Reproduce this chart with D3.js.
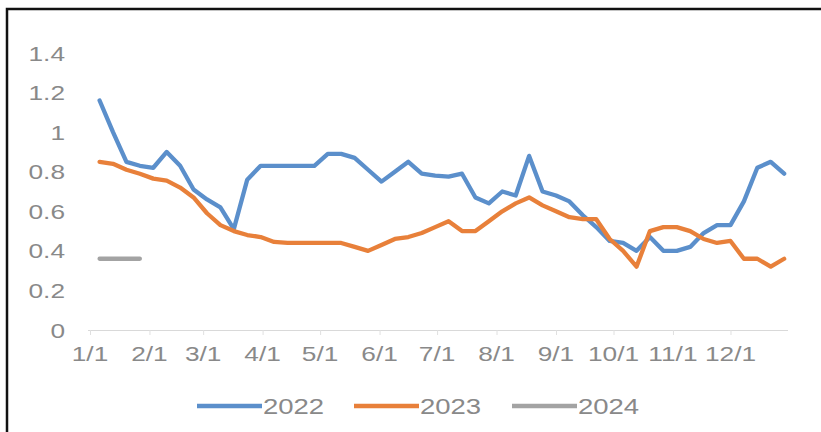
<!DOCTYPE html>
<html>
<head>
<meta charset="utf-8">
<script src="https://cdn.jsdelivr.net/npm/d3@7"></script>
<style>
  html, body { margin: 0; padding: 0; background: #ffffff; }
  svg { display: block; }
  text { font-family: "Liberation Sans", Arial, sans-serif; }
</style>
</head>
<body>
<svg id="chart" width="821" height="432"></svg>
<script>
// ---- data ----
const weeks = ["01-06","01-13","01-20","01-27","02-03","02-10","02-17","02-24",
  "03-03","03-10","03-17","03-24","03-31","04-07","04-14","04-21","04-28",
  "05-05","05-12","05-19","05-26","06-02","06-09","06-16","06-23","06-30",
  "07-07","07-14","07-21","07-28","08-04","08-11","08-18","08-25",
  "09-01","09-08","09-15","09-22","09-29","10-06","10-13","10-20","10-27",
  "11-03","11-10","11-17","11-24","12-01","12-08","12-15","12-22","12-29"];
const s2022 = [1.16,1.00,0.85,0.83,0.82,0.90,0.83,0.71,0.66,0.62,0.51,0.76,0.83,0.83,0.83,0.83,0.83,0.89,0.89,0.87,0.81,0.75,0.80,0.85,0.79,0.78,0.775,0.79,0.67,0.64,0.70,0.68,0.88,0.70,0.68,0.65,0.58,0.52,0.45,0.44,0.40,0.47,0.40,0.40,0.42,0.49,0.53,0.53,0.65,0.82,0.85,0.79];
const s2023 = [0.85,0.84,0.81,0.79,0.765,0.755,0.72,0.67,0.59,0.53,0.50,0.48,0.47,0.445,0.44,0.44,0.44,0.44,0.44,0.42,0.40,0.43,0.46,0.47,0.49,0.52,0.55,0.50,0.50,0.55,0.60,0.64,0.67,0.63,0.60,0.57,0.56,0.56,0.46,0.40,0.32,0.50,0.52,0.52,0.50,0.46,0.44,0.45,0.36,0.36,0.32,0.36];
const s2024 = [0.36,0.36,0.36,0.36];
const seriesNames = ["2022","2023","2024"];
const seriesColors = ["#5b8fcb","#e8803a","#a3a3a3"];
const monthLabels = ["1/1","2/1","3/1","4/1","5/1","6/1","7/1","8/1","9/1","10/1","11/1","12/1"];
const yTicks = [0,0.2,0.4,0.6,0.8,1,1.2,1.4];
const yTickLabels = ["0","0.2","0.4","0.6","0.8","1","1.2","1.4"];

// ---- setup ----
const svg = d3.select("#chart");
const parse = d3.timeParse("%Y-%m-%d");
const weekDates = weeks.map(w => parse("2022-" + w));
const monthDates = monthLabels.map((l, i) => new Date(2022, i, 1));

const x = d3.scaleTime()
  .domain([new Date(2022,0,1), new Date(2022,11,31)])
  .range([90, 788]);
const y = d3.scaleLinear().domain([0, 1.4]).range([330, 53]);

const textColor = "#898989";
const sx = 1.25;

// frame
svg.append("path")
  .attr("d", "M7,440 L7,9 L830,9")
  .attr("fill", "none").attr("stroke", "#111").attr("stroke-width", 2.5);

// x axis
const xAxis = d3.axisBottom(x)
  .tickValues(monthDates)
  .tickSize(5).tickSizeOuter(0)
  .tickFormat("");
const gx = svg.append("g").attr("transform", "translate(0,330)").call(xAxis);
gx.select(".domain").attr("stroke", "#d9d9d9").attr("stroke-width", 1.2)
  .attr("d", "M88,0.5H788");
gx.selectAll(".tick line").attr("stroke", "#e0e0e0");

svg.append("g").selectAll("text").data(monthLabels).join("text")
  .attr("transform", (d, i) => `translate(${x(monthDates[i])},361) scale(${sx},1)`)
  .attr("text-anchor", "middle")
  .attr("font-size", 21)
  .attr("fill", textColor)
  .text(d => d);

// y labels
svg.append("g").selectAll("text").data(yTicks).join("text")
  .attr("transform", d => `translate(65,${y(d) + 7.5}) scale(${sx},1)`)
  .attr("text-anchor", "end")
  .attr("font-size", 21)
  .attr("fill", textColor)
  .text((d, i) => yTickLabels[i]);

// lines
const line = d3.line()
  .x((d, i) => x(weekDates[i]))
  .y(d => y(d));
const allSeries = [s2022, s2023, s2024];
svg.append("g").selectAll("path").data(allSeries).join("path")
  .attr("d", d => line(d))
  .attr("fill", "none")
  .attr("stroke", (d, i) => seriesColors[i])
  .attr("stroke-width", 4.3)
  .attr("stroke-linejoin", "round")
  .attr("stroke-linecap", "round");

// legend
const legendLineX = [197, 354, 512];
const lg = svg.append("g");
seriesNames.forEach((name, i) => {
  lg.append("line")
    .attr("x1", legendLineX[i]).attr("x2", legendLineX[i] + 65)
    .attr("y1", 406).attr("y2", 406)
    .attr("stroke", seriesColors[i]).attr("stroke-width", 4.3);
  lg.append("text")
    .attr("transform", `translate(${legendLineX[i] + 66},414) scale(${sx},1)`)
    .attr("font-size", 22)
    .attr("fill", textColor)
    .text(name);
});
</script>
</body>
</html>
